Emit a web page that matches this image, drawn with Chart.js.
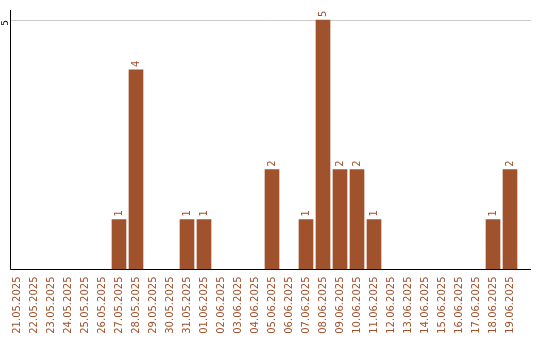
<!DOCTYPE html>
<html>
<head>
<meta charset="utf-8">
<script src="https://cdn.jsdelivr.net/npm/chart.js@4/dist/chart.umd.min.js"></script>
<style>
html,body{margin:0;padding:0;background:#fff;}
#wrap{width:540px;height:340px;position:relative;}
</style>
</head>
<body>
<div id="wrap"><canvas id="c" width="540" height="340"></canvas></div>
<script>
const categories = ["21.05.2025","22.05.2025","23.05.2025","24.05.2025","25.05.2025","26.05.2025","27.05.2025","28.05.2025","29.05.2025","30.05.2025","31.05.2025","01.06.2025","02.06.2025","03.06.2025","04.06.2025","05.06.2025","06.06.2025","07.06.2025","08.06.2025","09.06.2025","10.06.2025","11.06.2025","12.06.2025","13.06.2025","14.06.2025","15.06.2025","16.06.2025","17.06.2025","18.06.2025","19.06.2025"];
const counts = [0,0,0,0,0,0,1,4,0,0,1,1,0,0,0,2,0,1,5,2,2,1,0,0,0,0,0,0,1,2];
const yTicks = [5];

const BROWN = '#A0522D';
const FONT = 'DejaVu Sans';

const valueLabels = {
  id: 'valueLabels',
  afterDatasetsDraw(chart) {
    const ctx = chart.ctx;
    const meta = chart.getDatasetMeta(0);
    ctx.save();
    ctx.fillStyle = BROWN;
    ctx.font = '10px "' + FONT + '"';
    ctx.textAlign = 'left';
    ctx.textBaseline = 'middle';
    meta.data.forEach((bar, i) => {
      const v = counts[i];
      if (!v) return;
      ctx.save();
      ctx.translate(bar.x, bar.y - 3);
      ctx.rotate(-Math.PI / 2);
      ctx.fillText(String(v), 0, 0);
      ctx.restore();
    });
    ctx.restore();
  }
};

// grid line + axis lines, positioned from the library's scales
const axisLines = {
  id: 'axisLines',
  beforeDatasetsDraw(chart) {
    const ctx = chart.ctx;
    const a = chart.chartArea;
    const ys = chart.scales.y;
    ctx.save();
    ctx.strokeStyle = '#cccccc';
    ctx.lineWidth = 1;
    yTicks.forEach(v => {
      const y = Math.round(ys.getPixelForValue(v)) + 0.5;
      ctx.beginPath();
      ctx.moveTo(a.left + 2, y);
      ctx.lineTo(a.right + 12.5, y);
      ctx.stroke();
    });
    ctx.restore();
  },
  afterDraw(chart) {
    const ctx = chart.ctx;
    const a = chart.chartArea;
    const y0 = Math.floor(chart.scales.y.getPixelForValue(0)) + 0.5;
    const x0 = Math.floor(a.left) + 2.5;
    ctx.save();
    ctx.strokeStyle = '#000';
    ctx.lineWidth = 1;
    ctx.beginPath();
    ctx.moveTo(x0, a.top);
    ctx.lineTo(x0, y0);
    ctx.lineTo(a.right + 12.5, y0);
    ctx.stroke();
    ctx.restore();
  }
};

new Chart(document.getElementById('c'), {
  type: 'bar',
  data: {
    labels: categories,
    datasets: [{
      data: counts,
      backgroundColor: BROWN,
      borderWidth: 0,
      barThickness: 14
    }]
  },
  options: {
    responsive: false,
    animation: false,
    events: [],
    layout: { padding: { top: 10, right: 21.5, left: 0, bottom: 0 } },
    plugins: { legend: { display: false }, tooltip: { enabled: false } },
    scales: {
      x: {
        grid: { display: false, drawTicks: false },
        border: { display: false },
        ticks: {
          color: BROWN,
          font: { family: FONT, size: 10 },
          minRotation: 90,
          maxRotation: 90,
          autoSkip: false,
          padding: 7
        },
        afterFit(s) { s.height = 70.5; }
      },
      y: {
        min: 0,
        max: 5.2,
        afterBuildTicks(s) { s.ticks = yTicks.map(v => ({ value: v })); },
        grid: { display: false, drawTicks: false },
        border: { display: false },
        ticks: {
          color: '#000',
          font: { family: FONT, size: 9 },
          minRotation: 90,
          maxRotation: 90,
          padding: 3
        },
        afterFit(s) { s.width = 8.5; }
      }
    }
  },
  plugins: [valueLabels, axisLines]
});
</script>
</body>
</html>
